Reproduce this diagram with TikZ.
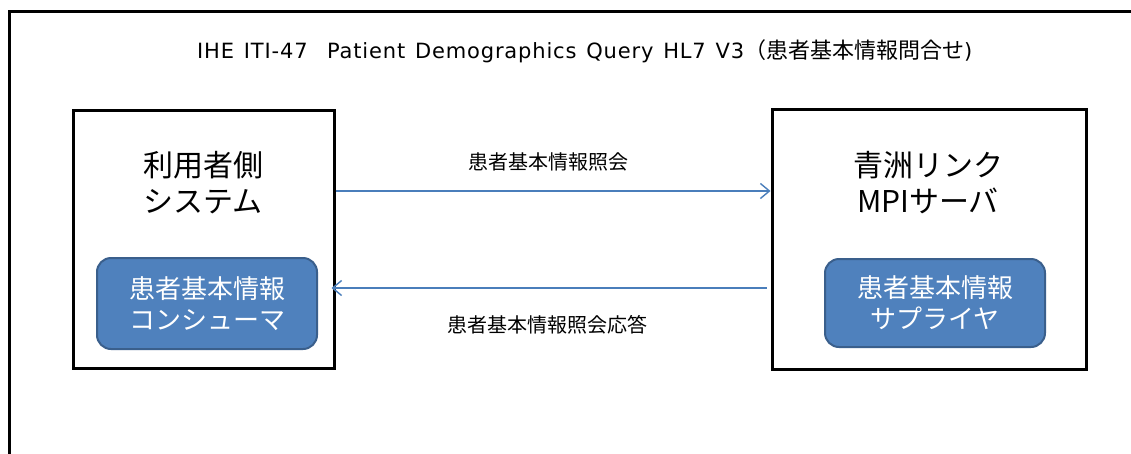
\documentclass[tikz,border=0pt]{standalone}
\usepackage{fontspec}
\setmainfont{Noto Sans CJK JP}
\newfontfamily\latinfont[LetterSpace=4,WordSpace=1.3]{DejaVu Sans}
\usetikzlibrary{arrows.meta}
\definecolor{boxblue}{HTML}{4F81BD}
\definecolor{boxedge}{HTML}{3A5F8C}
\definecolor{arrblue}{HTML}{4A7EBB}
\begin{document}
\begin{tikzpicture}[x=1pt,y=-1pt,
  frame/.style={line width=3pt,black},
  sysbox/.style={draw=black,line width=3pt,fill=white,inner sep=0pt},
  sysname/.style={align=center,font=\fontsize{30}{36}\selectfont,text=black,inner sep=0pt},
  actor/.style={draw=boxedge,line width=2pt,fill=boxblue,rounded corners=14pt,inner sep=0pt,
    minimum width=220pt,align=center,text=white,font=\fontsize{26}{31}\selectfont},
  msg/.style={draw=arrblue,line width=1.4pt,-{Straight Barb[length=9pt,width=15pt,line width=1.4pt]}},
  msglabel/.style={font=\fontsize{20}{24}\selectfont,text=black,inner sep=0pt},
  titletext/.style={font=\fontsize{22}{26}\selectfont,text=black,inner sep=0pt,anchor=west}]
\useasboundingbox (0,0) rectangle (1131,453);
\draw[frame] (9,470) -- (9,11) -- (1150,11);
\node[titletext] (title) at (197,51) {{\latinfont\fontsize{21}{24}\selectfont IHE ITI-47\ \ Patient Demographics Query HL7 V3}（患者基本情報問合せ{\latinfont\fontsize{21}{24}\selectfont )}};
\node[sysbox,minimum width=261pt,minimum height=258pt] (user) at (203.5,239) {};
\node[sysbox,minimum width=314pt,minimum height=260pt] (mpi) at (929,239) {};
\node[sysname] (username) at (203,183) {利用者側\\システム};
\node[sysname] (mpiname) at (928,183) {青洲リンク\\MPIサーバ};
\node[actor,minimum height=91pt] (consumer) at (207,303.5) {患者基本情報\\コンシューマ};
\node[actor,minimum height=88pt] (supplier) at (935,303) {患者基本情報\\サプライヤ};
\draw[msg] ([yshift=48pt]user.east) -- ([yshift=48pt]mpi.west);
\draw[msg] ([yshift=-49pt,xshift=-4pt]mpi.west) -- ([yshift=-49pt,xshift=-4pt]user.east);
\node[msglabel] (q) at (548,162) {患者基本情報照会};
\node[msglabel] (r) at (547,325) {患者基本情報照会応答};
\end{tikzpicture}
\end{document}
